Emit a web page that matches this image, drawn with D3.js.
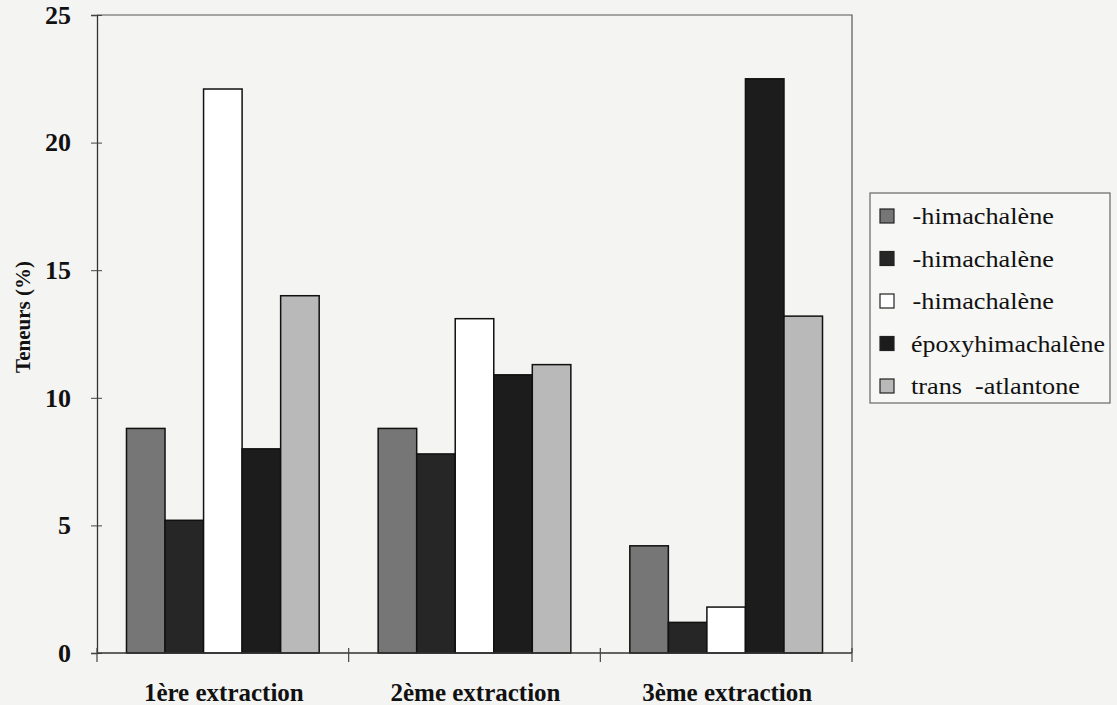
<!DOCTYPE html>
<html>
<head>
<meta charset="utf-8">
<script src="https://cdn.jsdelivr.net/npm/d3@7"></script>
<style>
  html, body { margin: 0; padding: 0; background: #f4f4f2; }
  svg { display: block; }
</style>
</head>
<body>
<svg id="chart" width="1117" height="705"></svg>
<script>
// ---- data ----
const categories = ["1ère extraction", "2ème extraction", "3ème extraction"];
const seriesNames = [" -himachalène", " -himachalène", " -himachalène", "époxyhimachalène", "trans  -atlantone"];
const alphaHimachalene = [8.8, 8.8, 4.2];
const gammaHimachalene = [5.2, 7.8, 1.2];
const betaHimachalene = [22.1, 13.1, 1.8];
const epoxyHimachalene = [8.0, 10.9, 22.5];
const transAtlantone = [14.0, 11.3, 13.2];
const seriesValues = [alphaHimachalene, gammaHimachalene, betaHimachalene, epoxyHimachalene, transAtlantone];
const seriesColors = ["#767676", "#262626", "#ffffff", "#1c1c1c", "#b9b9b9"];
const yTicks = [0, 5, 10, 15, 20, 25];
const yTitle = "Teneurs (%)";

(function () {
const FONT = '"Liberation Serif", "Times New Roman", Tinos, serif';
const svg = d3.select("#chart");
const pLeft = 97, pRight = 852, pTop = 15, pBottom = 653;

const x = d3.scaleBand().domain(categories).range([pLeft, pRight]).paddingInner(0).paddingOuter(0);
const xs = d3.scaleBand().domain(d3.range(seriesNames.length)).range([0, x.bandwidth()])
  .paddingInner(0).paddingOuter(0.765);
const y = d3.scaleLinear().domain([0, 25]).range([pBottom, pTop]);

// frame (top & right)
svg.append("path")
  .attr("d", `M${pLeft},${pTop}H${pRight}V${pBottom}`)
  .attr("fill", "none").attr("stroke", "#555").attr("stroke-width", 1.2);

// bars
const groups = svg.append("g").selectAll("g")
  .data(categories).join("g")
  .attr("transform", d => `translate(${x(d)},0)`);

groups.selectAll("rect")
  .data((c, ci) => seriesValues.map((vals, si) => ({ si, v: vals[ci] })))
  .join("rect")
  .attr("x", d => xs(d.si))
  .attr("width", xs.bandwidth())
  .attr("y", d => y(d.v))
  .attr("height", d => y(0) - y(d.v))
  .attr("fill", d => seriesColors[d.si])
  .attr("stroke", "#111")
  .attr("stroke-width", 1.5);

// y axis
const yAxis = svg.append("g").attr("transform", `translate(${pLeft},0)`)
  .call(d3.axisLeft(y).tickValues(yTicks).tickSize(6).tickPadding(20));
yAxis.attr("font-family", null).attr("font-size", null);
yAxis.select(".domain").attr("stroke", "#333").attr("stroke-width", 1.3);
yAxis.selectAll(".tick line").attr("stroke", "#444").attr("x2", 5).attr("x1", -6);
yAxis.selectAll(".tick text")
  .style("font-family", FONT)
  .attr("font-weight", "bold").attr("font-size", 26).attr("fill", "#111");

// x axis
const xAxisG = svg.append("g").attr("transform", `translate(0,${pBottom})`);
xAxisG.append("line").attr("x1", pLeft).attr("x2", pRight).attr("y1", 0).attr("y2", 0)
  .attr("stroke", "#333").attr("stroke-width", 1.3);
const boundaries = categories.map(c => x(c)).concat([x(categories[categories.length - 1]) + x.bandwidth()]);
xAxisG.selectAll("line.tk").data(boundaries).join("line").attr("class", "tk")
  .attr("x1", d => d).attr("x2", d => d).attr("y1", -5).attr("y2", 9)
  .attr("stroke", "#444").attr("stroke-width", 1.2);
xAxisG.selectAll("text").data(categories).join("text")
  .attr("x", d => x(d) + x.bandwidth() / 2 + 1)
  .attr("y", 48)
  .attr("text-anchor", "middle")
  .style("font-family", FONT)
  .attr("font-weight", "bold").attr("font-size", 25).attr("fill", "#111")
  .text(d => d);

// y title
svg.append("text")
  .attr("transform", "translate(30,317) rotate(-90)")
  .attr("text-anchor", "middle")
  .style("font-family", FONT)
  .attr("font-weight", "bold").attr("font-size", 21).attr("fill", "#111")
  .text(yTitle);

// legend
const lg = svg.append("g");
lg.append("rect").attr("x", 870).attr("y", 193).attr("width", 240).attr("height", 210)
  .attr("fill", "#f7f7f5").attr("stroke", "#666").attr("stroke-width", 1.2);
const items = lg.selectAll("g.item").data(seriesNames).join("g").attr("class", "item")
  .attr("transform", (d, i) => `translate(880,${216 + i * 42.5})`);
items.append("rect").attr("x", 0).attr("y", -7).attr("width", 14).attr("height", 14)
  .attr("fill", (d, i) => seriesColors[i]).attr("stroke", "#222").attr("stroke-width", 1.2);
const lt = items.append("text")
  .style("font-family", FONT)
  .attr("font-size", 23).attr("fill", "#111")
  .attr("xml:space", "preserve").style("white-space", "pre")
  .text(d => d);
// stretch labels horizontally like the scanned original
const starts = [26, 26, 26, 31, 31];
const widths = [148, 148, 148, 194, 169];
lt.each(function (d, i) {
  const len = this.getComputedTextLength() || widths[i];
  const sx = Math.max(0.9, Math.min(1.5, widths[i] / len));
  d3.select(this).attr("transform", `translate(${starts[i]},8) scale(${sx},1)`);
});
})();
</script>
</body>
</html>
